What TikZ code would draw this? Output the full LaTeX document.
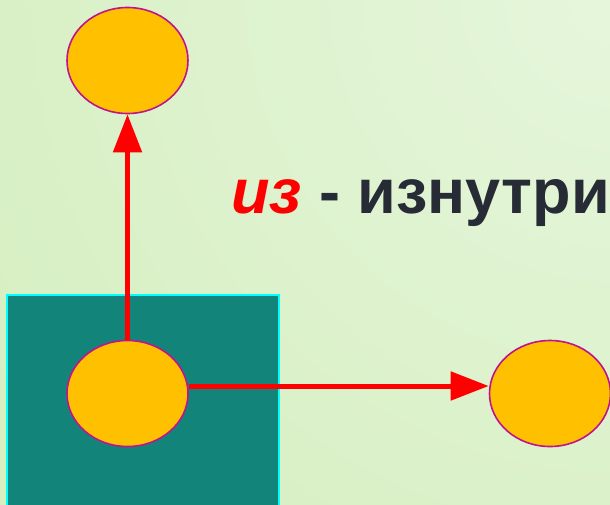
\documentclass[tikz,border=0pt]{standalone}
\usepackage{fontspec}
\setmainfont{Liberation Sans}
\usetikzlibrary{arrows.meta,shapes.geometric}
\definecolor{bgin}{HTML}{E6F6DC}
\definecolor{bgout}{HTML}{C6E8A6}
\definecolor{teal}{HTML}{13847A}
\definecolor{edgecyan}{HTML}{00FFFF}
\definecolor{ballfill}{HTML}{FFC000}
\definecolor{balledge}{HTML}{C0148C}
\definecolor{txtdark}{HTML}{262B36}
\definecolor{arrred}{HTML}{FF0000}
\tikzset{
  ball/.style={ellipse, draw=balledge, line width=1.6pt, fill=ballfill,
    minimum width=121pt, minimum height=106pt, inner sep=0pt},
  redarrow/.style={draw=arrred, line width=5pt,
    -{Triangle[length=38pt,width=28pt]}},
}
\begin{document}
\begin{tikzpicture}[x=1pt,y=-1pt]
  \useasboundingbox (0,0) rectangle (610,504);
  \clip (0,0) rectangle (610,504);
  \shade[inner color=bgin, outer color=bgout] (620,-10) circle (1500);
  \fill[teal] (7,295) rectangle (279,520);
  \draw[edgecyan, line width=2pt] (7,520) -- (7,295) -- (279,295) -- (279,520);
  \node[ball] (top) at (127.5,60.5) {};
  \node[ball] (bot) at (127.5,393.5) {};
  \node[ball] (right) at (550,393.5) {};
  \draw[redarrow] (bot.north) -- (top.south);
  \draw[redarrow] ([yshift=7.5pt]bot.east) -- ([yshift=7.5pt]right.west);
  \node[anchor=base west, inner sep=0pt, font=\fontsize{63}{70}\selectfont\bfseries] (label) at (231,213)
    {{\color{arrred}\itshape из}\ {\color{txtdark}- изнутри}};
\end{tikzpicture}
\end{document}
